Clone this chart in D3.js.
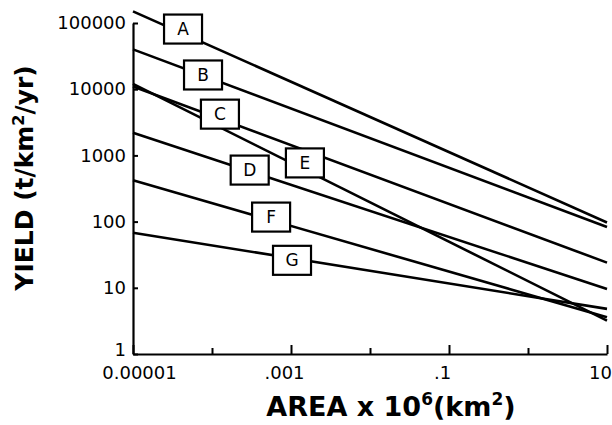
<!DOCTYPE html>
<html>
<head>
<meta charset="utf-8">
<script src="https://cdn.jsdelivr.net/npm/d3@7"></script>
<style>
  body { margin: 0; background: #fff; }
  svg { display: block; }
</style>
</head>
<body>
<svg id="svg" width="612" height="425"></svg>
<script>
// sediment yield vs drainage area, one power-law line per region
const lineNames = ['A', 'B', 'C', 'D', 'E', 'F', 'G']
const areaEnds = [0.00001, 10]
const yieldAtSmall = [150000, 40000, 12000, 2200, 11000, 420, 68]
const yieldAtLarge = [97, 83, 3.2, 9.6, 24, 3.6, 4.8]
const labelArea = [0.000043, 0.000077, 0.000126, 0.0003, 0.0015, 0.00056, 0.00103]
const labelYield = [81000, 16400, 4200, 600, 770, 117, 26]

const xTicks = [0.00001, 0.001, 0.1, 10]
const xTickLabels = ['0.00001', '.001', '.1', '10']
const xMinorTicks = [0.0001, 0.01, 1]
const yTicks = [1, 10, 100, 1000, 10000, 100000]
const yTickLabels = ['1', '10', '100', '1000', '10000', '100000']

const svg = d3.select('#svg')

const xScale = d3.scaleLog()
  .domain([0.00001, 10])
  .range([133, 607])

const yScale = d3.scaleLog()
  .domain([1, 100000])
  .range([354, 23])

const lineGen = d3.line()
  .x(d => xScale(d.area))
  .y(d => yScale(d.yield))

const lines = lineNames.map((name, i) => ({
  name,
  points: [
    { area: areaEnds[0], yield: yieldAtSmall[i] },
    { area: areaEnds[1], yield: yieldAtLarge[i] }
  ],
  label: { area: labelArea[i], yield: labelYield[i] }
}))

// axes
const yAxis = d3.axisLeft(yScale)
  .tickValues(yTicks)
  .tickFormat((d, i) => yTickLabels[i])
  .tickSizeInner(-5)
  .tickSizeOuter(0)
  .tickPadding(7)

const xAxis = d3.axisBottom(xScale)
  .tickValues(xTicks)
  .tickFormat((d, i) => xTickLabels[i])
  .tickSizeInner(-9)
  .tickSizeOuter(0)
  .tickPadding(12)

const xMinor = d3.axisBottom(xScale)
  .tickValues(xMinorTicks)
  .tickFormat('')
  .tickSizeInner(-6)
  .tickSizeOuter(0)

const styleAxis = (g) => {
  g.select('.domain').attr('stroke', '#000').attr('stroke-width', 2.2)
  g.selectAll('.tick line').attr('stroke', '#000').attr('stroke-width', 2)
  g.selectAll('.tick text')
    .attr('fill', '#000')
    .style('font-family', '"DejaVu Sans", sans-serif')
    .style('font-size', '18px')
}

svg.append('g')
  .attr('transform', 'translate(133, 0)')
  .call(yAxis)
  .call(styleAxis)
  .selectAll('.tick text')
  // the bottom label sits a little higher so it clears 0.00001
  .attr('y', d => d === 1 ? -4 : 0)

svg.append('g')
  .attr('transform', 'translate(0, 354)')
  .call(xMinor)
  .call(styleAxis)
  .select('.domain').remove()

svg.append('g')
  .attr('transform', 'translate(0, 354)')
  .call(xAxis)
  .call(styleAxis)
  .selectAll('.tick text')
  .attr('dx', (d, i) => i === 0 ? 6 : -7)

// lines
svg.append('g')
  .selectAll('path')
  .data(lines)
  .join('path')
  .attr('d', d => lineGen(d.points))
  .attr('fill', 'none')
  .attr('stroke', '#000')
  .attr('stroke-width', 2.6)

// boxed labels
const labels = svg.append('g')
  .selectAll('g')
  .data(lines)
  .join('g')
  .attr('transform', d => `translate(${xScale(d.label.area)}, ${yScale(d.label.yield)})`)

labels.append('rect')
  .attr('x', -19)
  .attr('y', -14.5)
  .attr('width', 38)
  .attr('height', 29)
  .attr('fill', '#fff')
  .attr('stroke', '#000')
  .attr('stroke-width', 2.2)

labels.append('text')
  .attr('text-anchor', 'middle')
  .attr('dy', '0.36em')
  .style('font-family', '"DejaVu Sans", sans-serif')
  .style('font-size', '17px')
  .text(d => d.name)

// axis titles
const yTitle = svg.append('text')
  .attr('transform', 'translate(33, 178) rotate(-90)')
  .attr('text-anchor', 'middle')
  .style('font-family', '"DejaVu Sans", sans-serif')
  .style('font-weight', 'bold')
  .style('font-size', '25px')

yTitle.append('tspan').text('YIELD (t/km')
yTitle.append('tspan').attr('dy', -9).style('font-size', '16px').text('2')
yTitle.append('tspan').attr('dy', 9).text('/yr)')

const xTitle = svg.append('text')
  .attr('x', 391)
  .attr('y', 416)
  .attr('text-anchor', 'middle')
  .style('font-family', '"DejaVu Sans", sans-serif')
  .style('font-weight', 'bold')
  .style('font-size', '27px')

xTitle.append('tspan').text('AREA x 10')
xTitle.append('tspan').attr('dy', -11).style('font-size', '17px').text('6')
xTitle.append('tspan').attr('dy', 11).text('(km')
xTitle.append('tspan').attr('dy', -11).style('font-size', '17px').text('2')
xTitle.append('tspan').attr('dy', 11).text(')')
</script>
</body>
</html>
